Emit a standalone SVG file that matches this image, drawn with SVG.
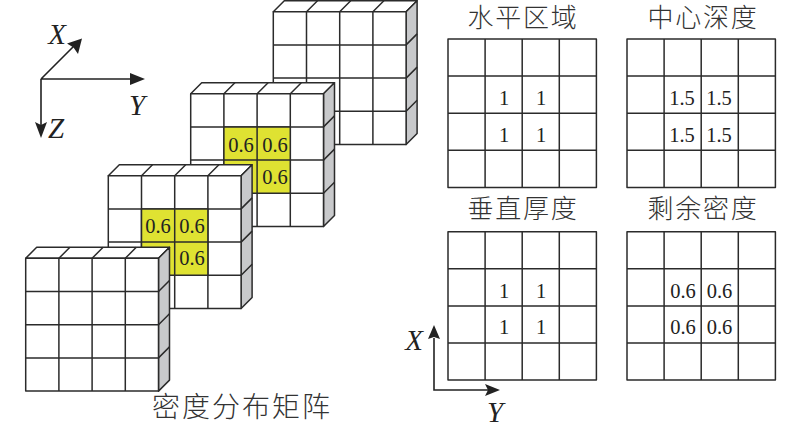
<svg xmlns="http://www.w3.org/2000/svg" xmlns:xlink="http://www.w3.org/1999/xlink" width="800" height="431" viewBox="0 0 800 431">
<style>
.l{stroke:#2b2b2b;stroke-width:1.5;fill:none;stroke-linejoin:round}
.w{fill:#fff}
.g{fill:#c8c9cb}
.y{fill:#dfe232}
.n{font-family:"Liberation Serif",serif;font-size:20.500px;fill:#222;text-anchor:middle}
.t{font-family:"Liberation Serif","Noto Sans CJK SC",sans-serif;font-size:26px;fill:#333;text-anchor:middle;letter-spacing:1.800px;font-weight:300}
.a{font-family:"Liberation Serif",serif;font-style:italic;font-size:29px;fill:#222;text-anchor:middle}
.ax{stroke:#222;stroke-width:1.6;fill:none}
.h{fill:#222}
</style>
<defs>
<g id="stack">
<path class="w l" d="M0 0l11-11h132.800l-11 11z"/>
<path class="g l" d="M132.800 0l11-11v132.800l-11 11z"/>
<rect class="w l" x="0" y="0" width="132.800" height="132.800"/>
<path class="l" d="M33.200 0v132.800M66.400 0v132.800M99.600 0v132.800M0 33.200h132.800M0 66.400h132.800M0 99.600h132.800"/>
<path class="l" d="M33.200 0l11-11M66.400 0l11-11M99.600 0l11-11M132.800 33.200l11-11M132.800 66.400l11-11M132.800 99.600l11-11"/>
</g>
<g id="yel">
<path class="y" d="M33.200 33.200h66.400v66.400h-66.400z"/>
<path class="l" d="M33.200 33.200h66.400v66.400h-66.400zM66.400 33.200v66.400M33.200 66.400h66.400"/>
</g>
<g id="grid">
<rect class="l" x="0" y="0" width="148.400" height="148.400" fill="#fff"/>
<path class="l" d="M37.100 0v148.400M74.200 0v148.400M111.300 0v148.400M0 37.100h148.400M0 74.200h148.400M0 111.300h148.400"/>
</g>
</defs>
<g id="axes-3d">
<path class="ax" d="M41 79L76 44M41 79H138M41 79V130"/>
<path class="h" d="M82 38.500L78 54L73.500 47.500L67 43.500z"/>
<path class="h" d="M145 79L130 73V85z"/>
<path class="h" d="M41 138L35 122L41 125L47 122z"/>
<text class="a" x="57" y="44">X</text>
<text class="a" x="137" y="115">Y</text>
<text class="a" x="56" y="138">Z</text>
</g>
<g id="stack-4"><use href="#stack" x="273.300" y="11.700"/></g>
<g id="stack-3"><use href="#stack" x="190.700" y="93.700"/><use href="#yel" x="190.700" y="93.700"/>
<text class="n" x="241" y="152">0.6</text><text class="n" x="275" y="152">0.6</text><text class="n" x="275" y="184">0.6</text></g>
<g id="stack-2"><use href="#stack" x="108.300" y="175.700"/><use href="#yel" x="108.300" y="175.700"/>
<text class="n" x="158" y="233">0.6</text><text class="n" x="192" y="233">0.6</text><text class="n" x="192" y="265">0.6</text></g>
<g id="stack-1"><use href="#stack" x="25.700" y="258.300"/></g>
<g id="caption"><text class="t" x="242" y="417" style="font-size:28px;letter-spacing:2px">密度分布矩阵</text></g>
<g id="grid-horizontal"><text class="t" x="523" y="27">水平区域</text><use href="#grid" x="448" y="39"/>
<text class="n" x="504" y="105">1</text><text class="n" x="541" y="105">1</text><text class="n" x="504" y="141.500">1</text><text class="n" x="541" y="141.500">1</text></g>
<g id="grid-depth"><text class="t" x="703" y="27">中心深度</text><use href="#grid" x="627" y="39"/>
<text class="n" x="682" y="105">1.5</text><text class="n" x="719" y="105">1.5</text><text class="n" x="682" y="141.500">1.5</text><text class="n" x="719" y="141.500">1.5</text></g>
<g id="grid-thickness"><text class="t" x="523" y="218">垂直厚度</text><use href="#grid" x="448" y="231.700"/>
<text class="n" x="504" y="298">1</text><text class="n" x="541" y="298">1</text><text class="n" x="504" y="334">1</text><text class="n" x="541" y="334">1</text></g>
<g id="grid-residual"><text class="t" x="703" y="218">剩余密度</text><use href="#grid" x="627" y="231.700"/>
<text class="n" x="683" y="298">0.6</text><text class="n" x="719.500" y="298">0.6</text><text class="n" x="683" y="334">0.6</text><text class="n" x="719.500" y="334">0.6</text></g>
<g id="axes-2d">
<path class="ax" d="M434 338V390H492"/>
<path class="h" d="M434 325L428 339L434 337L440 339z"/>
<path class="h" d="M500 390L485 384L488 390L485 396z"/>
<text class="a" x="414" y="350">X</text>
<text class="a" x="495" y="422">Y</text>
</g>
</svg>
